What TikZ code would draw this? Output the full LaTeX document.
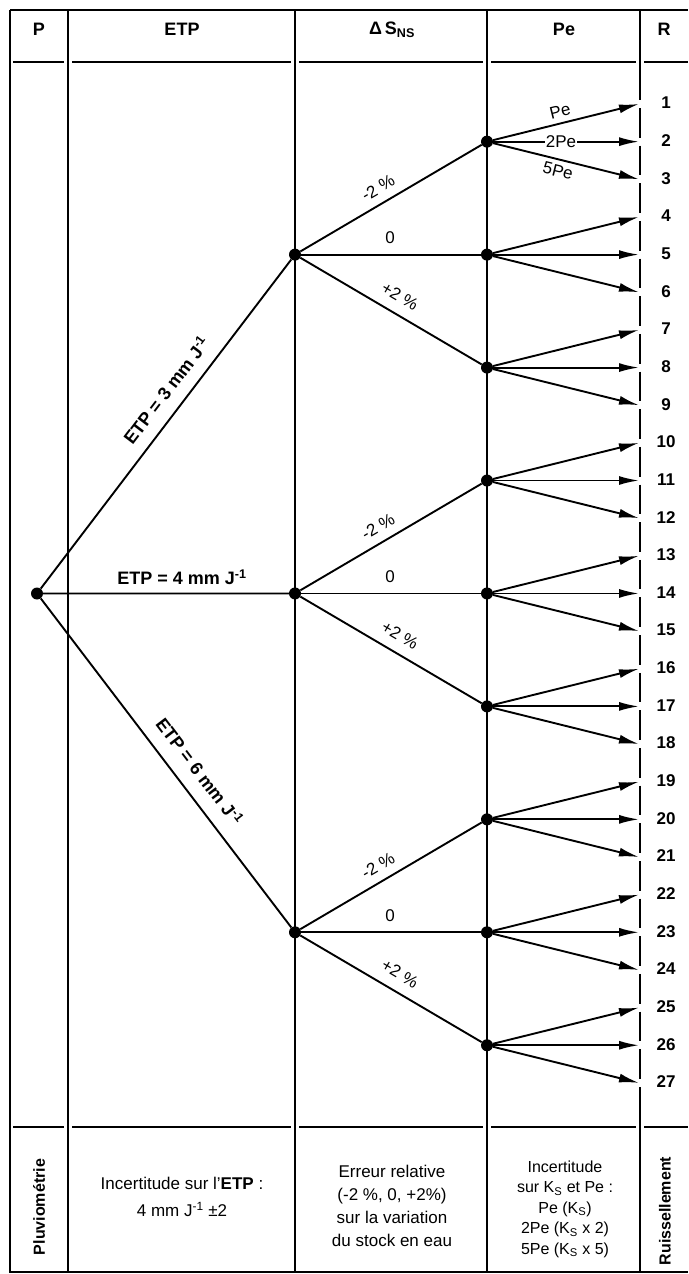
\documentclass[tikz,border=0pt]{standalone}
\usepackage{fontspec}
\setmainfont{Liberation Sans}
\usetikzlibrary{arrows.meta}
\begin{document}
\begin{tikzpicture}[x=1pt,y=-1pt,
  gridline/.style={line width=1.5pt},
  sepline/.style={line width=2.8pt},
  treeline/.style={line width=1.9pt},
  dot/.style={circle,fill=black,inner sep=0pt,minimum size=12pt},
  arr/.style={line width=1.9pt,-{Latex[length=20pt,width=9pt]}},
  hdr/.style={font=\fontsize{18}{20}\selectfont\bfseries,inner sep=1pt},
  vhdr/.style={font=\fontsize{16}{18}\selectfont\bfseries,inner sep=1pt,rotate=90},
  lab/.style={font=\fontsize{18}{20}\selectfont\bfseries,inner sep=1pt},
  dlab/.style={font=\fontsize{17}{19}\selectfont,inner sep=1pt},
  num/.style={font=\fontsize{17}{19}\selectfont\bfseries,inner sep=1pt},
  foot/.style={align=center,inner sep=1pt},
]
\useasboundingbox (0,0) rectangle (688,1274);
% ---- table frame ----
\draw[gridline] (10,10) -- (688,10);
\draw[gridline] (10,10) -- (10,1272) -- (688,1272);
\foreach \x in {68,295,487} \draw[gridline] (\x,10) -- (\x,1272);
% broken line between Pe and R columns
\draw[gridline] (640,10) -- (640,100);
\foreach \n in {1,...,26} {
  \pgfmathsetmacro{\ys}{104+(\n-1)*37.65+4}
  \pgfmathsetmacro{\ye}{104+\n*37.65-4}
  \draw[gridline] (640,\ys) -- (640,\ye);
}
\draw[gridline] (640,1087) -- (640,1272);
\foreach \yy in {62,1127} {
  \draw[sepline] (13,\yy) -- (64,\yy);
  \draw[sepline] (72,\yy) -- (291,\yy);
  \draw[sepline] (299,\yy) -- (483,\yy);
  \draw[sepline] (491,\yy) -- (636,\yy);
  \draw[sepline] (644,\yy) -- (688,\yy);
}
% ---- header ----
\node[hdr] (hP) at (39,29) {P};
\node[hdr] (hE) at (182,29) {ETP};
\node[hdr] (hS) at (392,30) {Δ\,S\textsubscript{NS}};
\node[hdr] (hPe) at (564,29) {Pe};
\node[hdr] (hR) at (664,29) {R};
% ---- row targets and numbers ----
\foreach \n in {1,...,27} {
  \pgfmathsetmacro{\yv}{104+(\n-1)*37.65}
  \coordinate (t\n) at (639,\yv);
  \node[num] (n\n) at (666,\yv-1) {\n};
}
% ---- tree nodes ----
\node[dot] (r) at (37,593.5) {};
\pgfmathsetmacro{\ya}{104+4*37.65}
\pgfmathsetmacro{\yb}{104+13*37.65}
\pgfmathsetmacro{\yc}{104+22*37.65}
\node[dot] (e1) at (295,\ya) {};
\node[dot] (e2) at (295,\yb) {};
\node[dot] (e3) at (295,\yc) {};
\foreach \k in {1,...,9} {
  \pgfmathsetmacro{\yv}{104+(3*\k-2)*37.65}
  \node[dot] (p\k) at (487,\yv) {};
}
% ---- connectors ----
\draw[treeline] (r) -- (e1);
\draw[treeline] (r) -- (e2);
\draw[treeline] (r) -- (e3);
\draw[treeline] (e1) -- (p1); \draw[treeline] (e1) -- (p2); \draw[treeline] (e1) -- (p3);
\draw[treeline] (e2) -- (p4); \draw[treeline] (e2) -- (p5); \draw[treeline] (e2) -- (p6);
\draw[treeline] (e3) -- (p7); \draw[treeline] (e3) -- (p8); \draw[treeline] (e3) -- (p9);
\foreach \k in {1,...,9} {
  \pgfmathtruncatemacro{\a}{3*\k-2}
  \pgfmathtruncatemacro{\b}{3*\k-1}
  \pgfmathtruncatemacro{\c}{3*\k}
  \draw[arr] (p\k) -- (t\a);
  \draw[arr] (p\k) -- (t\b);
  \draw[arr] (p\k) -- (t\c);
}
% ---- labels ----
\node[lab,rotate=52.7] (l3) at (166,390) {ETP = 3 mm J\textsuperscript{-1}};
\node[lab] (l4) at (182,577) {ETP = 4 mm J\textsuperscript{-1}};
\node[lab,rotate=-52.7] (l6) at (200,771) {ETP = 6 mm J\textsuperscript{-1}};
\foreach \g/\d in {1/0,2/338.85,3/677.7} {
  \node[dlab,rotate=30.4] (m\g) at (378,{188+\d}) {-2 \%};
  \node[dlab] (z\g) at (390,{238+\d}) {0};
  \node[dlab,rotate=-30.4] (pl\g) at (400,{296+\d}) {+2 \%};
}
\node[dlab,rotate=14] (qa) at (560,111) {Pe};
\node[dlab,fill=white,inner sep=0.5pt] (qb) at (561,141.65) {2Pe};
\node[dlab,rotate=-14] (qc) at (558,171) {5Pe};
% ---- footer ----
\node[vhdr] (fP) at (39,1207) {Pluviométrie};
\node[foot,font=\fontsize{17}{27}\selectfont] (fE) at (182,1197) {Incertitude sur l'\textbf{ETP} :\\4 mm J\textsuperscript{-1} ±2};
\node[foot,font=\fontsize{17}{23}\selectfont] (fS) at (392,1206) {Erreur relative\\(-2 \%, 0, +2\%)\\sur la variation\\du stock en eau};
\node[foot,font=\fontsize{16}{20.5}\selectfont] (fPe) at (565,1209) {Incertitude\\sur K\textsubscript{S} et Pe :\\Pe (K\textsubscript{S})\\2Pe (K\textsubscript{S} x 2)\\5Pe (K\textsubscript{S} x 5)};
\node[vhdr] (fR) at (665,1211) {Ruissellement};
\end{tikzpicture}
\end{document}
